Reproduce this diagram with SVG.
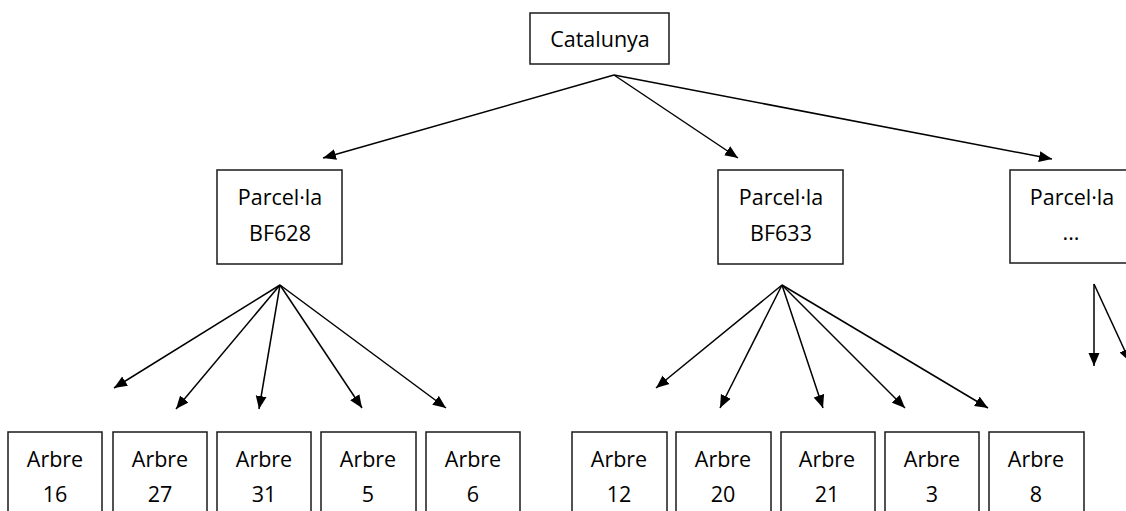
<svg xmlns="http://www.w3.org/2000/svg" width="1126" height="511" viewBox="0 0 1126 511">
<style>
.box{fill:#fff;stroke:#1a1a1a;stroke-width:1.5}
.t{font-family:"Open Sans","Noto Sans","Liberation Sans",sans-serif;font-size:21.5px;fill:#000;text-anchor:middle}
.c{stroke:#000;stroke-width:1.5;fill:none;marker-end:url(#ah)}
</style>
<defs>
<marker id="ah" markerUnits="userSpaceOnUse" markerWidth="14" markerHeight="12" refX="13" refY="6" orient="auto" viewBox="0 0 14 12">
<path d="M0,0.5 L13,6 L0,11.5 z" fill="#000"/>
</marker>
</defs>
<rect width="1126" height="511" fill="#fff"/>
<g id="connectors">
<line class="c" x1="614" y1="75" x2="323" y2="158"/>
<line class="c" x1="614" y1="75" x2="738" y2="158"/>
<line class="c" x1="614" y1="75" x2="1052" y2="159"/>
<line class="c" x1="280" y1="285" x2="114" y2="388"/>
<line class="c" x1="280" y1="285" x2="176" y2="409"/>
<line class="c" x1="280" y1="285" x2="259" y2="409"/>
<line class="c" x1="280" y1="285" x2="362" y2="408"/>
<line class="c" x1="280" y1="285" x2="446" y2="408"/>
<line class="c" x1="782" y1="285" x2="656" y2="388"/>
<line class="c" x1="782" y1="285" x2="720" y2="408"/>
<line class="c" x1="782" y1="285" x2="823" y2="408"/>
<line class="c" x1="782" y1="285" x2="905" y2="408"/>
<line class="c" x1="782" y1="285" x2="988" y2="408"/>
<line class="c" x1="1094" y1="284" x2="1094" y2="366"/>
<line class="c" x1="1094" y1="284" x2="1130" y2="362"/>
</g>
<g id="catalunya"><rect class="box" x="530" y="13" width="139" height="51"/><text class="t" x="600" y="47">Catalunya</text></g>
<g id="bf628"><rect class="box" x="217" y="170" width="125" height="94"/><text class="t" x="280" y="205">Parcel·la</text><text class="t" x="280" y="241">BF628</text></g>
<g id="bf633"><rect class="box" x="718" y="170" width="125" height="94"/><text class="t" x="781" y="205">Parcel·la</text><text class="t" x="781" y="241">BF633</text></g>
<g id="parcela-etc"><rect class="box" x="1010" y="170" width="130" height="93"/><text class="t" x="1072" y="205">Parcel·la</text><text class="t" x="1071" y="240">...</text></g>
<g id="arbre16"><rect class="box" x="8" y="432" width="94" height="90"/><text class="t" x="55" y="467">Arbre</text><text class="t" x="55" y="502">16</text></g>
<g id="arbre27"><rect class="box" x="113" y="432" width="94" height="90"/><text class="t" x="160" y="467">Arbre</text><text class="t" x="160" y="502">27</text></g>
<g id="arbre31"><rect class="box" x="217" y="432" width="94" height="90"/><text class="t" x="264" y="467">Arbre</text><text class="t" x="264" y="502">31</text></g>
<g id="arbre5"><rect class="box" x="321" y="432" width="95" height="90"/><text class="t" x="368" y="467">Arbre</text><text class="t" x="368" y="502">5</text></g>
<g id="arbre6"><rect class="box" x="426" y="432" width="94" height="90"/><text class="t" x="473" y="467">Arbre</text><text class="t" x="473" y="502">6</text></g>
<g id="arbre12"><rect class="box" x="572" y="432" width="95" height="90"/><text class="t" x="619" y="467">Arbre</text><text class="t" x="619" y="502">12</text></g>
<g id="arbre20"><rect class="box" x="676" y="432" width="95" height="90"/><text class="t" x="723" y="467">Arbre</text><text class="t" x="723" y="502">20</text></g>
<g id="arbre21"><rect class="box" x="781" y="432" width="94" height="90"/><text class="t" x="827" y="467">Arbre</text><text class="t" x="827" y="502">21</text></g>
<g id="arbre3"><rect class="box" x="885" y="432" width="94" height="90"/><text class="t" x="932" y="467">Arbre</text><text class="t" x="932" y="502">3</text></g>
<g id="arbre8"><rect class="box" x="989" y="432" width="95" height="90"/><text class="t" x="1036" y="467">Arbre</text><text class="t" x="1036" y="502">8</text></g>
</svg>
